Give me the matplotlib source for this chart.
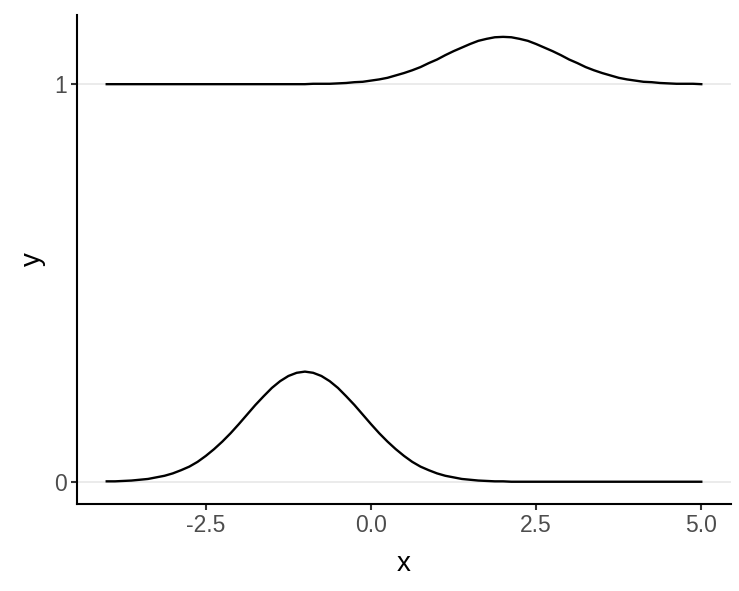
import matplotlib
matplotlib.use("Agg")
import matplotlib.pyplot as plt

plt.rcParams['font.family'] = ['Liberation Sans', 'DejaVu Sans']

# x positions along each ridge
x_vals = [-4.0, -3.875, -3.75, -3.625, -3.5, -3.375, -3.25, -3.125,
          -3.0, -2.875, -2.75, -2.625, -2.5, -2.375, -2.25, -2.125,
          -2.0, -1.875, -1.75, -1.625, -1.5, -1.375, -1.25, -1.125,
          -1.0, -0.875, -0.75, -0.625, -0.5, -0.375, -0.25, -0.125,
          0.0, 0.125, 0.25, 0.375, 0.5, 0.625, 0.75, 0.875,
          1.0, 1.125, 1.25, 1.375, 1.5, 1.625, 1.75, 1.875,
          2.0, 2.125, 2.25, 2.375, 2.5, 2.625, 2.75, 2.875,
          3.0, 3.125, 3.25, 3.375, 3.5, 3.625, 3.75, 3.875,
          4.0, 4.125, 4.25, 4.375, 4.5, 4.625, 4.75, 4.875, 5.0]

# ridge at y = 0, heights above its baseline
ridge0_base = 0
ridge0_height = [0.001, 0.001, 0.002, 0.003, 0.005, 0.007, 0.011, 0.015,
                 0.021, 0.029, 0.038, 0.050, 0.065, 0.082, 0.101, 0.122,
                 0.145, 0.169, 0.193, 0.215, 0.236, 0.253, 0.266, 0.274,
                 0.277, 0.274, 0.266, 0.253, 0.236, 0.215, 0.193, 0.169,
                 0.145, 0.122, 0.101, 0.082, 0.065, 0.050, 0.038, 0.029,
                 0.021, 0.015, 0.011, 0.007, 0.005, 0.003, 0.002, 0.001,
                 0.001, 0.0, 0.0, 0.0, 0.0, 0.0, 0.0, 0.0,
                 0.0, 0.0, 0.0, 0.0, 0.0, 0.0, 0.0, 0.0,
                 0.0, 0.0, 0.0, 0.0, 0.0, 0.0, 0.0, 0.0, 0.0]

# ridge at y = 1
ridge1_base = 1
ridge1_height = [0.0, 0.0, 0.0, 0.0, 0.0, 0.0, 0.0, 0.0,
                 0.0, 0.0, 0.0, 0.0, 0.0, 0.0, 0.0, 0.0,
                 0.0, 0.0, 0.0, 0.0, 0.0, 0.0, 0.0, 0.0,
                 0.0, 0.001, 0.001, 0.001, 0.002, 0.003, 0.005, 0.006,
                 0.009, 0.012, 0.016, 0.022, 0.028, 0.035, 0.043, 0.053,
                 0.062, 0.073, 0.083, 0.092, 0.101, 0.109, 0.114, 0.118,
                 0.119, 0.118, 0.114, 0.109, 0.101, 0.092, 0.083, 0.073,
                 0.062, 0.053, 0.043, 0.035, 0.028, 0.022, 0.016, 0.012,
                 0.009, 0.006, 0.005, 0.003, 0.002, 0.001, 0.001, 0.001, 0.0]

x_ticks = [-2.5, 0.0, 2.5, 5.0]
x_ticklabels = ['-2.5', '0.0', '2.5', '5.0']
y_ticks = [0, 1]
y_ticklabels = ['0', '1']

fig = plt.figure(figsize=(7.39, 5.91), dpi=100)
ax = fig.add_axes([77 / 739, 87 / 591, 654 / 739, 489 / 591])

for yt in y_ticks:
    ax.axhline(yt, color='#ebebeb', lw=1.4, zorder=0)

ax.plot(x_vals, [ridge0_base + h for h in ridge0_height], color='black', lw=1.7,
        solid_joinstyle='round')
ax.plot(x_vals, [ridge1_base + h for h in ridge1_height], color='black', lw=1.7,
        solid_joinstyle='round')

ax.set_xlim(-4.45, 5.45)
ax.set_ylim(-0.056, 1.174)

ax.set_xticks(x_ticks)
ax.set_xticklabels(x_ticklabels)
ax.set_yticks(y_ticks)
ax.set_yticklabels(y_ticklabels)

for side in ['top', 'right']:
    ax.spines[side].set_visible(False)
for side in ['left', 'bottom']:
    ax.spines[side].set_linewidth(1.5)
    ax.spines[side].set_color('black')

ax.tick_params(axis='both', length=4.5, width=1.5, color='#333333',
               labelsize=16.5, labelcolor='#4d4d4d', pad=3)

ax.set_xlabel('x', fontsize=20, labelpad=10)
ax.set_ylabel('y', fontsize=20, labelpad=6)

fig.savefig('out.png', dpi=100)
